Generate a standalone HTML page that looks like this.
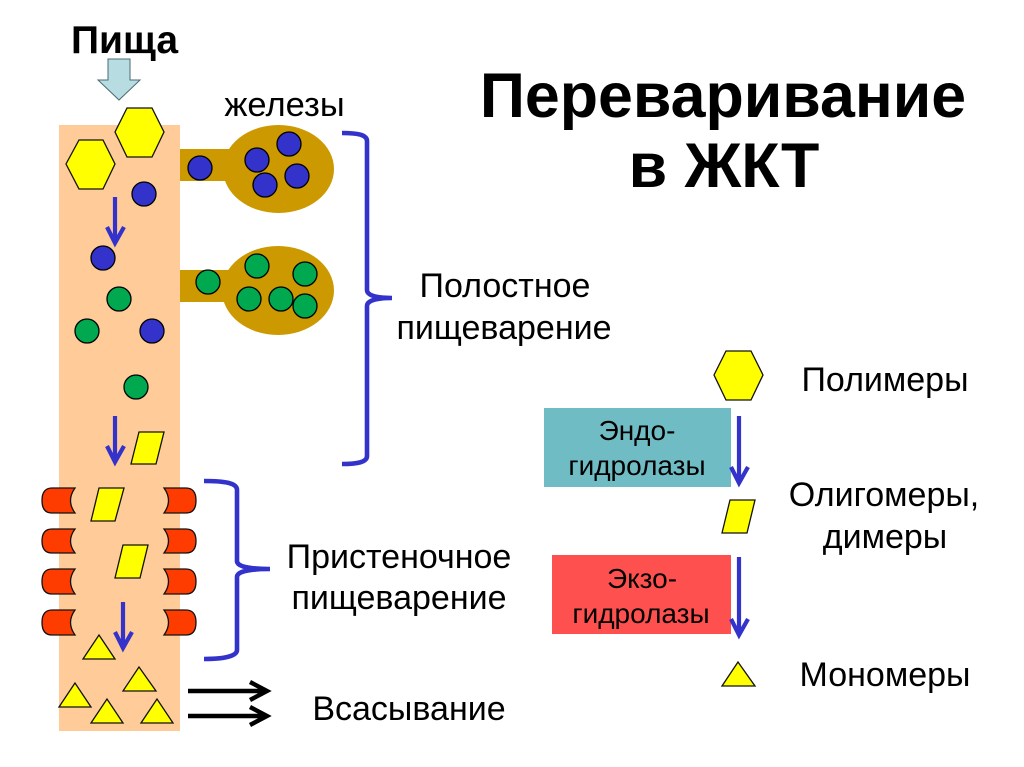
<!DOCTYPE html>
<html lang="ru"><head><meta charset="utf-8"><title>Переваривание в ЖКТ</title>
<style>
html,body{margin:0;padding:0;background:#fff}
svg{display:block}
text{font-family:"Liberation Sans","DejaVu Sans",sans-serif;fill:#000;text-anchor:middle}
.c{stroke:#000;stroke-width:1.3}
.b{fill:#3333cc}.g{fill:#00a850}
.y{fill:#ff0;stroke:#111;stroke-width:1.3}
.r{fill:#ff3c00;stroke:#111;stroke-width:1.3}
.ar{fill:none;stroke:#3333cc;stroke-width:4.2}
.br{fill:none;stroke:#3333cc;stroke-width:4.6}
.bk{fill:none;stroke:#000;stroke-width:4.4}
.l{font-size:34px}
.s{font-size:28px}
</style></head><body>
<svg width="1024" height="767" viewBox="0 0 1024 767" xmlns="http://www.w3.org/2000/svg">
<rect width="1024" height="767" fill="#fff"/>
<rect x="59" y="125" width="121" height="606" fill="#ffcc99"/>

<!-- glands -->
<g fill="#cc9900">
<rect x="180" y="149" width="50" height="32"/><ellipse cx="278.500" cy="169" rx="55.500" ry="44"/>
<rect x="180" y="270" width="50" height="32"/><ellipse cx="278" cy="290.500" rx="56" ry="44.500"/>
</g>

<!-- food arrow -->
<polygon points="108,59 130,59 130,80 140,80 119,100 98,80 108,80" fill="#b7dde3" stroke="#4a6a70" stroke-width="1"/>

<!-- hexagons -->
<polygon class="y" points="115,132 127,108 152,108 164,132 152,157 127,157"/>
<polygon class="y" points="66,164 79,140 103,140 115,164 103,189 79,189"/>
<polygon class="y" points="714,375 726,351 751,351 763,375 751,400 726,400"/>

<!-- circles -->
<g class="c">
<circle class="b" cx="144" cy="194" r="12"/>
<circle class="b" cx="103" cy="258" r="12"/>
<circle class="g" cx="119" cy="299" r="12"/>
<circle class="g" cx="87" cy="331" r="12"/>
<circle class="b" cx="152" cy="331" r="12"/>
<circle class="g" cx="136" cy="387" r="12"/>
<circle class="b" cx="200" cy="168" r="12"/>
<circle class="b" cx="257" cy="160" r="12"/>
<circle class="b" cx="289" cy="144" r="12"/>
<circle class="b" cx="297" cy="176" r="12"/>
<circle class="b" cx="265" cy="185" r="12"/>
<circle class="g" cx="208" cy="282" r="12"/>
<circle class="g" cx="257" cy="266" r="12"/>
<circle class="g" cx="305" cy="274" r="12"/>
<circle class="g" cx="249" cy="299" r="12"/>
<circle class="g" cx="281" cy="299" r="12"/>
<circle class="g" cx="305" cy="306" r="12"/>
</g>

<!-- parallelograms -->
<polygon class="y" points="131,464 139,432 164,432 156,464"/>
<polygon class="y" points="91,521 99,488 124,488 115,521"/>
<polygon class="y" points="115,578 123,545 148,545 140,578"/>
<polygon class="y" points="722,533 730,500 755,500 747,533"/>

<!-- triangles -->
<polygon class="y" points="99,635 83,659 115,659"/>
<polygon class="y" points="139,667 123,691 156,691"/>
<polygon class="y" points="75,683 59,707 91,707"/>
<polygon class="y" points="107,699 91,723 123,723"/>
<polygon class="y" points="157,699 141,723 173,723"/>
<polygon class="y" points="738,662 722,686 755,686"/>

<!-- receptors -->
<g class="r">
<path d="M75,488H52Q42,488 42,500.500Q42,513 52,513H75Q66,500.500 75,488Z"/>
<path d="M75,529H52Q42,529 42,541Q42,553 52,553H75Q66,541 75,529Z"/>
<path d="M75,569H52Q42,569 42,581.500Q42,594 52,594H75Q66,581.500 75,569Z"/>
<path d="M75,610H52Q42,610 42,622.500Q42,635 52,635H75Q66,622.500 75,610Z"/>
<path d="M164,488H186Q196,488 196,500.500Q196,513 186,513H164Q173,500.500 164,488Z"/>
<path d="M164,529H186Q196,529 196,541Q196,553 186,553H164Q173,541 164,529Z"/>
<path d="M164,569H186Q196,569 196,581.500Q196,594 186,594H164Q173,581.500 164,569Z"/>
<path d="M164,610H186Q196,610 196,622.500Q196,635 186,635H164Q173,622.500 164,610Z"/>
</g>

<!-- blue arrows -->
<g class="ar">
<path d="M115,197V243M107,227L115,243L124,227"/>
<path d="M115,416V462M107,446L115,462L124,446"/>
<path d="M123,602V648M115,632L123,648L132,632"/>
</g>

<!-- brackets -->
<path class="br" d="M342,133C358,133 367,135 367,141V290Q367,298 392,298Q367,298 367,306V456C367,462 358,464 342,464"/>
<path class="br" d="M204,481C225,481 237,483 237,490V561Q237,569 270,569Q237,569 237,577V650C237,656 225,659 204,659"/>

<!-- black arrows -->
<g class="bk">
<path d="M188,691H266M250,682L267,691L250,700"/>
<path d="M188,716H266M250,707L267,716L250,725"/>
</g>

<!-- enzyme boxes -->
<rect x="544" y="408" width="187" height="79" fill="#70bcc4"/>
<rect x="552" y="555" width="179" height="79" fill="#ff5050"/>
<g class="ar">
<path d="M739,416V483M731,467L739,483L748,467"/>
<path d="M739,557V635M731,619L739,635L748,619"/>
</g>

<!-- text -->
<text x="124.500" y="53" font-size="39" font-weight="700">Пища</text>
<text x="284.500" y="116" font-size="34.500">железы</text>
<text x="723" y="117" font-size="62.700" font-weight="700">Переваривание</text>
<text x="724" y="187" font-size="62.700" font-weight="700">в ЖКТ</text>
<text x="505" y="297" class="l">Полостное</text>
<text x="504" y="339" class="l">пищеварение</text>
<text x="399" y="568" class="l">Пристеночное</text>
<text x="399" y="609" class="l">пищеварение</text>
<text x="409" y="720" class="l">Всасывание</text>
<text x="885" y="391" class="l">Полимеры</text>
<text x="884" y="506" class="l">Олигомеры,</text>
<text x="885" y="548" class="l">димеры</text>
<text x="885" y="686" class="l">Мономеры</text>
<text x="637" y="440" class="s">Эндо-</text>
<text x="637" y="475" class="s">гидролазы</text>
<text x="642" y="588" class="s">Экзо-</text>
<text x="641" y="623" class="s">гидролазы</text>
</svg>
</body></html>
